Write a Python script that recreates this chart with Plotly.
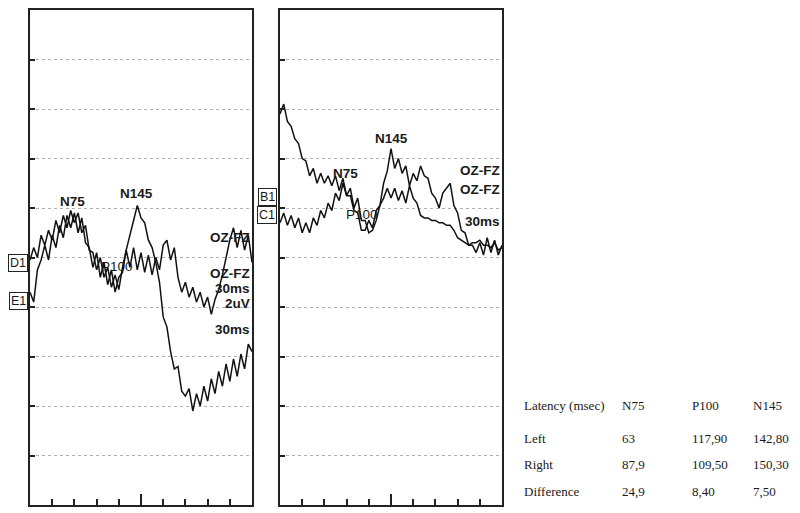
import plotly.graph_objects as go

# time base (ms), 30 ms / division, 10 divisions
time_ms = list(range(0, 301, 5))

# Left eye recordings (µV, arbitrary baseline; 2 µV / division)
left_trace_a = [9.9, 10.4, 10.0, 10.9, 10.5, 11.1, 10.7, 11.5, 11.0, 11.7, 11.2, 11.9, 11.4, 11.8, 11.0,
                11.3, 10.3, 10.2, 9.5, 10.0, 9.2, 9.6, 8.8, 9.3, 8.7, 9.6, 10.3, 10.9, 11.6, 12.1,
                11.6, 11.4, 10.7, 10.4, 9.8, 9.0, 7.6, 7.2, 6.2, 5.5, 5.6, 4.6, 4.4, 4.7, 3.8,
                4.5, 4.0, 4.8, 4.2, 5.1, 4.5, 5.4, 4.8, 5.7, 5.0, 5.9, 5.2, 6.1, 5.5, 6.5, 6.2]
left_trace_b = [8.6, 8.2, 9.5, 9.9, 10.5, 9.9, 10.9, 10.4, 11.3, 10.8, 11.7, 11.2, 11.8, 11.0, 11.6,
                10.6, 10.4, 9.6, 10.2, 9.2, 9.8, 8.9, 9.5, 8.6, 9.2, 9.4, 10.3, 9.6, 10.4, 9.5,
                10.2, 9.4, 10.1, 9.3, 10.0, 9.5, 10.5, 10.7, 9.9, 10.4, 9.2, 8.6, 9.0, 8.4, 8.8,
                8.2, 8.6, 8.0, 8.4, 7.7, 8.3, 8.7, 9.3, 10.0, 10.7, 11.2, 10.4, 11.1, 10.3, 10.9, 9.8]

# Right eye recordings
right_trace_b1 = [15.8, 16.2, 15.5, 15.3, 14.8, 14.6, 14.0, 13.9, 13.3, 13.6, 13.0, 13.4, 13.0, 13.3, 12.9,
                  13.3, 12.7, 13.2, 12.5, 12.5, 11.9, 11.8, 11.1, 11.1, 11.5, 11.2, 11.9, 12.1, 13.0, 13.5,
                  14.4, 13.6, 14.0, 13.4, 13.7, 12.9, 13.4, 13.1, 13.7, 13.3, 13.2, 12.6, 12.4, 12.0, 12.6,
                  12.8, 13.0, 12.1, 11.8, 11.1, 11.0, 10.5, 10.5, 10.2, 10.6, 10.1, 10.8, 10.2, 10.7, 10.1, 10.5]
right_trace_c1 = [11.4, 11.8, 11.3, 11.7, 11.2, 11.6, 11.0, 11.4, 11.0, 11.6, 11.3, 11.9, 11.6, 12.2, 11.9,
                  12.6, 12.3, 13.0, 12.5, 12.8, 12.0, 12.4, 11.5, 11.5, 11.0, 11.1, 11.5, 12.1, 12.4, 12.8,
                  12.4, 12.8, 12.3, 12.7, 12.2, 12.9, 12.4, 12.2, 11.7, 11.6, 11.6, 11.5, 11.5, 11.4, 11.4,
                  11.3, 11.3, 11.1, 10.8, 10.7, 10.6, 10.5, 10.6, 10.6, 10.7, 10.5, 10.5, 10.4, 10.6, 10.3, 10.4]

# Latency table
table_header = ["Latency (msec)", "N75", "P100", "N145"]
table_rows = [
    ["Left", "63", "117,90", "142,80"],
    ["Right", "87,9", "109,50", "150,30"],
    ["Difference", "24,9", "8,40", "7,50"],
]

fig = go.Figure()
line = dict(color="#111", width=1.5)
fig.add_trace(go.Scatter(x=time_ms, y=left_trace_a, mode="lines", line=line, xaxis="x", yaxis="y", showlegend=False))
fig.add_trace(go.Scatter(x=time_ms, y=left_trace_b, mode="lines", line=line, xaxis="x", yaxis="y", showlegend=False))
fig.add_trace(go.Scatter(x=time_ms, y=right_trace_b1, mode="lines", line=line, xaxis="x2", yaxis="y2", showlegend=False))
fig.add_trace(go.Scatter(x=time_ms, y=right_trace_c1, mode="lines", line=line, xaxis="x2", yaxis="y2", showlegend=False))

# page is rendered with an 8 px body margin: figure pixel = page pixel - 8
OFF = 8
W, H = 800 - OFF, 513 - OFF
def px(p):
    return (p - OFF) / W
def py(p):
    return (H - (p - OFF)) / H

xax = dict(range=[0, 300], showticklabels=False, showgrid=False, zeroline=False,
           showline=True, linecolor="#222", linewidth=1.6, mirror=True,
           ticks="inside", dtick=150, tick0=0, ticklen=11, tickwidth=2, tickcolor="#222",
           minor=dict(dtick=30, ticks="inside", ticklen=6, tickwidth=2, tickcolor="#222", showgrid=False))
yax = dict(range=[0, 20], showticklabels=False, zeroline=False,
           showgrid=True, gridcolor="#b0b0b0", griddash="dot", gridwidth=1, dtick=2, tick0=0,
           showline=True, linecolor="#222", linewidth=1.6, mirror=True,
           ticks="inside", ticklen=5, tickwidth=2, tickcolor="#222")

ydom = [py(505), py(8)]
fig.update_layout(
    width=W, height=H, margin=dict(l=0, r=0, t=0, b=0),
    paper_bgcolor="white", plot_bgcolor="white",
    xaxis=dict(xax, domain=[px(30), px(252)], anchor="y"),
    yaxis=dict(yax, domain=ydom, anchor="x"),
    xaxis2=dict(xax, domain=[px(280), px(502)], anchor="y2"),
    yaxis2=dict(yax, domain=ydom, anchor="x2"),
)

lab = dict(family="Liberation Sans, Arial, sans-serif", size=13.5, color="#1a1a1a")
def note(text, x, y, xr, yr, xanchor="center", font=lab):
    fig.add_annotation(text=text, x=x, y=y, xref=xr, yref=yr, showarrow=False,
                       xanchor=xanchor, yanchor="middle", font=font)

# left panel labels
note("<b>N75</b>", 57, 12.25, "x", "y")
note("<b>N145</b>", 144, 12.6, "x", "y")
note("P100", 118, 9.65, "x", "y")
note("<b>OZ-FZ</b>", 300, 10.8, "x", "y", "right")
note("<b>OZ-FZ</b>", 300, 9.35, "x", "y", "right")
note("<b>30ms</b>", 300, 8.75, "x", "y", "right")
note("<b>2uV</b>", 300, 8.15, "x", "y", "right")
note("<b>30ms</b>", 300, 7.1, "x", "y", "right")
# right panel labels
note("<b>N145</b>", 151, 14.8, "x2", "y2")
note("<b>N75</b>", 88, 13.4, "x2", "y2")
note("P100", 111, 11.75, "x2", "y2")
note("<b>OZ-FZ</b>", 300, 13.5, "x2", "y2", "right")
note("<b>OZ-FZ</b>", 300, 12.75, "x2", "y2", "right")
note("<b>30ms</b>", 300, 11.45, "x2", "y2", "right")

# channel boxes
box = dict(family="Liberation Sans, Arial, sans-serif", size=12.5, color="#1a1a1a")
for text, yv, yr in [("D1", 9.78, "y"), ("E1", 8.25, "y"), ("B1", 12.43, "y2"), ("C1", 11.71, "y2")]:
    xc = 18 if yr == "y" else 267
    fig.add_annotation(text=text, x=px(xc), y=yv, xref="paper", yref=yr, showarrow=False,
                       xanchor="center", yanchor="middle", font=box, bgcolor="white",
                       bordercolor="#222", borderwidth=1, borderpad=1)

# table
serif = dict(family="Liberation Serif, Times New Roman, serif", size=13, color="#1a1a1a")
col_x = [522, 620, 690, 751]
row_y = [405, 438, 464, 491]
for r, row in enumerate([table_header] + table_rows):
    for c, txt in enumerate(row):
        fig.add_annotation(text=txt, x=px(col_x[c]), y=py(row_y[r]), xref="paper", yref="paper",
                           showarrow=False, xanchor="left", yanchor="middle", font=serif)

fig.write_html("out.html")
